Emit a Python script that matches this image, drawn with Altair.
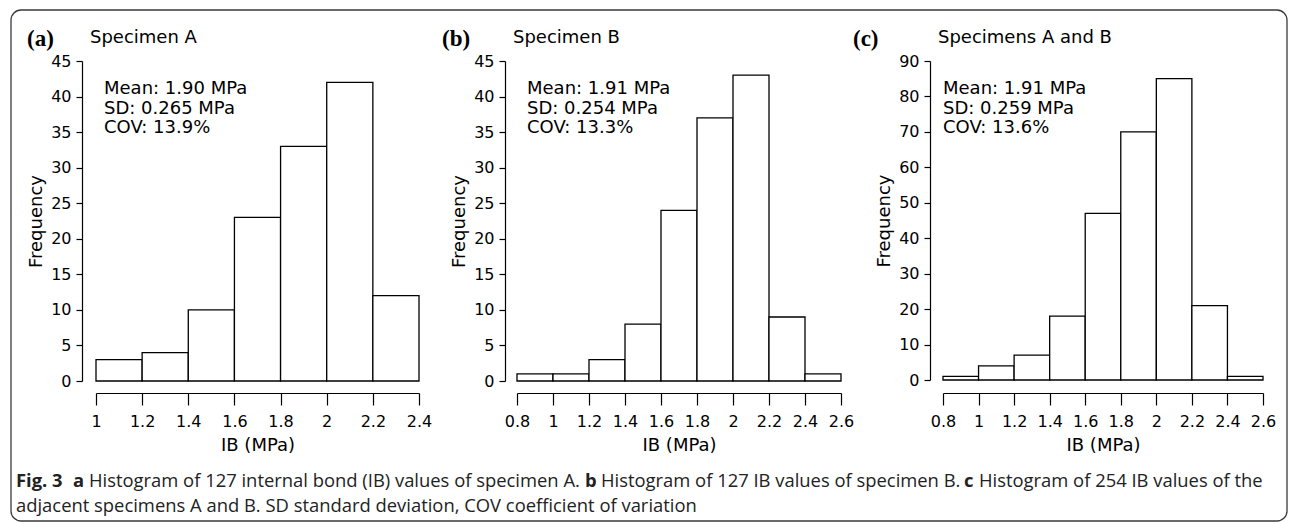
import altair as alt
import pandas as pd

# ---------------- data ----------------
edges_a = [1.0, 1.2, 1.4, 1.6, 1.8, 2.0, 2.2, 2.4]
counts_a = [3, 4, 10, 23, 33, 42, 12]
edges_bc = [0.8, 1.0, 1.2, 1.4, 1.6, 1.8, 2.0, 2.2, 2.4, 2.6]
counts_b = [1, 1, 3, 8, 24, 37, 43, 9, 1]
counts_c = [1, 4, 7, 18, 47, 70, 85, 21, 1]

xticks_a = [1, 1.2, 1.4, 1.6, 1.8, 2, 2.2, 2.4]
xticks_bc = [0.8, 1, 1.2, 1.4, 1.6, 1.8, 2, 2.2, 2.4, 2.6]
yticks_ab = [0, 5, 10, 15, 20, 25, 30, 35, 40, 45]
yticks_c = [0, 10, 20, 30, 40, 50, 60, 70, 80, 90]

panel_letters = ["(a)", "(b)", "(c)"]
panel_titles = ["Specimen A", "Specimen B", "Specimens A and B"]
panel_stats = [
    ["Mean: 1.90 MPa", "SD: 0.265 MPa", "COV: 13.9%"],
    ["Mean: 1.91 MPa", "SD: 0.254 MPa", "COV: 13.3%"],
    ["Mean: 1.91 MPa", "SD: 0.259 MPa", "COV: 13.6%"],
]
x_title = "IB (MPa)"
y_title = "Frequency"

caption_line1 = [
    ("Fig. 3", True),
    ("a", True),
    ("Histogram of 127 internal bond (IB) values of specimen A.", False),
    ("b", True),
    ("Histogram of 127 IB values of specimen B.", False),
    ("c", True),
    ("Histogram of 254 IB values of the", False),
]
caption_line2 = "adjacent specimens A and B. SD standard deviation, COV coefficient of variation"

# ---------------- layout (chart pixel coords) ----------------
W, H = 1280, 514
X_AXIS_Y = 385
FONT = "DejaVu Sans"
CAP_FONT = "Open Sans"

panels = [
    dict(edges=edges_a, counts=counts_a, xdom=[1.0, 2.4], xr=[88, 411], ydom=[0, 45],
         yr=[373, 53], yax=74, xt=xticks_a, yt=yticks_ab,
         letter_x=19, title_x=82, stats_x=96),
    dict(edges=edges_bc, counts=counts_b, xdom=[0.8, 2.6], xr=[509, 833], ydom=[0, 45],
         yr=[373, 53], yax=497, xt=xticks_bc, yt=yticks_ab,
         letter_x=434, title_x=505, stats_x=519),
    dict(edges=edges_bc, counts=counts_c, xdom=[0.8, 2.6], xr=[935, 1255], ydom=[0, 90],
         yr=[372, 53], yax=922, xt=xticks_bc, yt=yticks_c,
         letter_x=845, title_x=930, stats_x=935),
]

layers = []

# outer rounded frame
frame = alt.Chart(pd.DataFrame({"d": [0]})).mark_rect(
    fillOpacity=0, fill="white", stroke="#3a3a3a", strokeWidth=1.3, cornerRadius=10
).encode(x=alt.value(3), x2=alt.value(1279), y=alt.value(2), y2=alt.value(513))
layers.append(frame)

for i, p in enumerate(panels):
    df = pd.DataFrame({
        "lo": p["edges"][:-1],
        "hi": p["edges"][1:],
        "n": p["counts"],
    })
    xc = (p["xr"][0] + p["xr"][1]) / 2
    ymid = (p["yr"][0] + p["yr"][1]) / 2
    xaxis = alt.Axis(
        orient="bottom", offset=X_AXIS_Y - H, values=p["xt"], zindex=1,
        labelExpr="format(datum.value, '~g')", grid=False,
        labelFont=FONT, labelFontSize=16, labelColor="black",
        labelFlush=False, labelOverlap=False, labelBound=False,
        tickSize=12, tickWidth=1.2, tickColor="black",
        domainColor="black", domainWidth=1.2, labelPadding=8,
        title=x_title, titleFont=FONT, titleFontSize=18, titleFontWeight="normal",
        titleColor="black", titleX=xc, titleY=52, titleBaseline="middle", titleAlign="center",
    )
    yaxis = alt.Axis(
        orient="left", offset=-p["yax"], values=p["yt"], grid=False, zindex=1,
        labelFont=FONT, labelFontSize=16, labelColor="black",
        labelFlush=False, labelOverlap=False, labelBound=False,
        tickSize=6, tickWidth=1.2, tickColor="black",
        domainColor="black", domainWidth=1.2, labelPadding=5,
        title=y_title, titleFont=FONT, titleFontSize=18, titleFontWeight="normal",
        titleColor="black", titleX=-46, titleY=ymid, titleAngle=270,
        titleBaseline="middle", titleAlign="center",
    )
    bars = alt.Chart(df).mark_bar(fill="white", stroke="black", strokeWidth=1.3).encode(
        x=alt.X("lo:Q", scale=alt.Scale(domain=p["xdom"], range=p["xr"], nice=False, zero=False), axis=xaxis),
        x2="hi:Q",
        y=alt.Y("n:Q", scale=alt.Scale(domain=p["ydom"], range=p["yr"], nice=False, zero=True), axis=yaxis),
        y2=alt.datum(0),
    )
    layers.append(bars)

    letter = alt.Chart(pd.DataFrame({"d": [0]})).mark_text(
        font="Liberation Serif", fontSize=23, fontWeight="bold", align="left",
        baseline="alphabetic", color="black"
    ).encode(x=alt.value(p["letter_x"]), y=alt.value(38), text=alt.value(panel_letters[i]))
    title = alt.Chart(pd.DataFrame({"d": [0]})).mark_text(
        font=FONT, fontSize=18, align="left", baseline="alphabetic", color="black"
    ).encode(x=alt.value(p["title_x"]), y=alt.value(34.5), text=alt.value(panel_titles[i]))
    layers += [letter, title]
    for j, line in enumerate(panel_stats[i]):
        t = alt.Chart(pd.DataFrame({"d": [0]})).mark_text(
            font=FONT, fontSize=18, align="left", baseline="alphabetic", color="black"
        ).encode(x=alt.value(p["stats_x"]), y=alt.value(86 + 19.5 * j), text=alt.value(line))
        layers.append(t)

# caption
cap_x = [8, 65, 81, 577, 593, 956, 971]
for (txt, bold), cx in zip(caption_line1, cap_x):
    t = alt.Chart(pd.DataFrame({"d": [0]})).mark_text(
        font=CAP_FONT, fontSize=18.4, fontWeight="bold" if bold else "normal",
        align="left", baseline="middle", color="#222222"
    ).encode(x=alt.value(cx), y=alt.value(473), text=alt.value(txt))
    layers.append(t)
layers.append(
    alt.Chart(pd.DataFrame({"d": [0]})).mark_text(
        font=CAP_FONT, fontSize=18.4, align="left", baseline="middle", color="#222222"
    ).encode(x=alt.value(8), y=alt.value(498), text=alt.value(caption_line2))
)

chart = alt.layer(*layers).resolve_scale(
    x="independent", y="independent"
).resolve_axis(
    x="independent", y="independent"
).properties(
    width=W, height=H, padding=0, autosize=alt.AutoSizeParams(type="none"),
    background="white"
).configure_view(stroke=None)

chart.save("out.html", embed_options={"renderer": "svg", "actions": False})
